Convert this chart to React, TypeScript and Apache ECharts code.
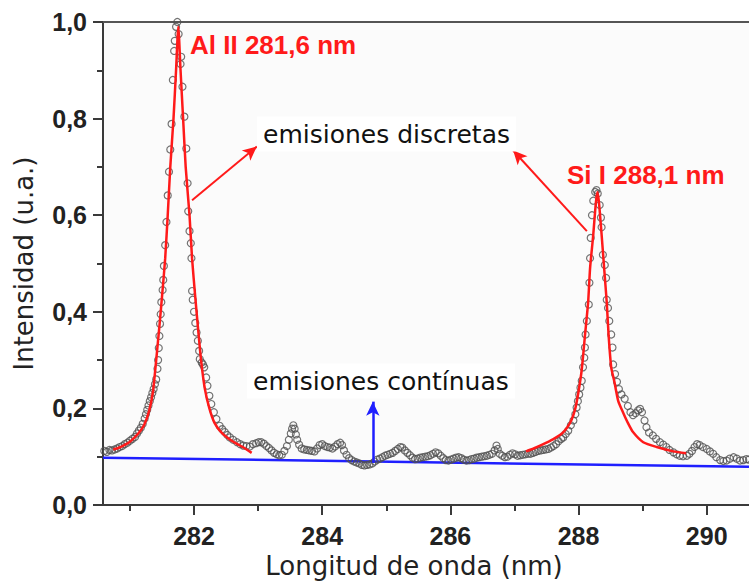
import { useEffect, useRef } from "react";
import * as echarts from "echarts";

// Measured spectrum (open circles)
const WAVELENGTH = [
  280.60, 280.64, 280.68, 280.72, 280.76, 280.80, 280.84, 280.88, 280.92, 280.96,
  281.00, 281.04, 281.08, 281.11, 281.14, 281.17, 281.20, 281.23, 281.25, 281.27,
  281.29, 281.31, 281.33, 281.35, 281.37, 281.39, 281.41, 281.43, 281.44, 281.45,
  281.46, 281.47, 281.48, 281.49, 281.51, 281.52, 281.53, 281.55, 281.57, 281.59,
  281.61, 281.63, 281.65, 281.67, 281.69, 281.70, 281.72, 281.74, 281.76, 281.79,
  281.80, 281.82, 281.85, 281.88, 281.90, 281.91, 281.93, 281.95, 281.96, 281.97,
  281.98, 282.00, 282.02, 282.04, 282.06, 282.08, 282.09, 282.12, 282.14, 282.16,
  282.19, 282.21, 282.24, 282.27, 282.31, 282.35, 282.40, 282.44, 282.48, 282.52,
  282.56, 282.61, 282.67, 282.72, 282.77, 282.82, 282.87, 282.92, 282.97, 283.01,
  283.05, 283.09, 283.13, 283.17, 283.21, 283.25, 283.29, 283.33, 283.37, 283.41,
  283.45, 283.48, 283.51, 283.53, 283.55, 283.57, 283.59, 283.61, 283.64, 283.68,
  283.72, 283.76, 283.80, 283.84, 283.88, 283.92, 283.96, 284.00, 284.04, 284.08,
  284.12, 284.16, 284.20, 284.24, 284.28, 284.31, 284.34, 284.38, 284.42, 284.46,
  284.50, 284.54, 284.58, 284.62, 284.66, 284.70, 284.74, 284.78, 284.82, 284.86,
  284.90, 284.94, 284.98, 285.02, 285.06, 285.10, 285.14, 285.18, 285.22, 285.25,
  285.29, 285.33, 285.37, 285.41, 285.45, 285.49, 285.53, 285.57, 285.61, 285.65,
  285.69, 285.73, 285.77, 285.81, 285.85, 285.89, 285.93, 285.97, 286.01, 286.05,
  286.09, 286.13, 286.17, 286.21, 286.25, 286.29, 286.33, 286.37, 286.41, 286.45,
  286.49, 286.53, 286.57, 286.61, 286.65, 286.69, 286.72, 286.74, 286.77, 286.81,
  286.85, 286.89, 286.93, 286.97, 287.01, 287.05, 287.09, 287.13, 287.17, 287.21,
  287.25, 287.29, 287.33, 287.37, 287.41, 287.45, 287.49, 287.53, 287.57, 287.61,
  287.65, 287.69, 287.73, 287.76, 287.80, 287.84, 287.88, 287.92, 287.95, 287.97,
  287.99, 288.01, 288.03, 288.05, 288.07, 288.09, 288.10, 288.11, 288.13, 288.16,
  288.17, 288.18, 288.19, 288.21, 288.23, 288.26, 288.28, 288.30, 288.33, 288.35,
  288.36, 288.38, 288.41, 288.43, 288.44, 288.46, 288.48, 288.51, 288.53, 288.54,
  288.57, 288.60, 288.63, 288.67, 288.72, 288.77, 288.81, 288.85, 288.89, 288.93,
  288.96, 288.99, 289.03, 289.06, 289.10, 289.16, 289.21, 289.27, 289.32, 289.37,
  289.42, 289.48, 289.53, 289.58, 289.63, 289.69, 289.73, 289.77, 289.81, 289.85,
  289.89, 289.94, 290.00, 290.05, 290.10, 290.15, 290.21, 290.26, 290.31, 290.36,
  290.42, 290.47, 290.52, 290.57, 290.62, 290.66,
];
const INTENSITY = [
  0.112, 0.110, 0.114, 0.113, 0.115, 0.117, 0.120, 0.122, 0.126, 0.129,
  0.133, 0.137, 0.141, 0.148, 0.154, 0.160, 0.168, 0.179, 0.188, 0.197,
  0.206, 0.215, 0.223, 0.232, 0.240, 0.250, 0.260, 0.282, 0.300, 0.325,
  0.350, 0.375, 0.395, 0.420, 0.445, 0.466, 0.495, 0.538, 0.586, 0.641,
  0.690, 0.736, 0.789, 0.880, 0.940, 0.961, 0.990, 1.000, 0.975, 0.913,
  0.928, 0.866, 0.804, 0.738, 0.666, 0.608, 0.567, 0.542, 0.511, 0.443,
  0.425, 0.400, 0.377, 0.357, 0.340, 0.319, 0.302, 0.295, 0.291, 0.285,
  0.264, 0.247, 0.226, 0.209, 0.192, 0.178, 0.164, 0.157, 0.151, 0.145,
  0.140, 0.135, 0.130, 0.126, 0.123, 0.122, 0.121, 0.126, 0.128, 0.130,
  0.130, 0.127, 0.122, 0.118, 0.113, 0.108, 0.105, 0.103, 0.104, 0.112,
  0.122, 0.135, 0.148, 0.158, 0.165, 0.158, 0.146, 0.135, 0.125, 0.117,
  0.115, 0.114, 0.113, 0.112, 0.111, 0.117, 0.124, 0.126, 0.122, 0.120,
  0.119, 0.117, 0.121, 0.126, 0.129, 0.124, 0.113, 0.104, 0.097, 0.093,
  0.090, 0.088, 0.086, 0.083, 0.082, 0.083, 0.084, 0.086, 0.090, 0.094,
  0.096, 0.099, 0.102, 0.104, 0.106, 0.108, 0.112, 0.116, 0.120, 0.119,
  0.113, 0.108, 0.103, 0.098, 0.095, 0.096, 0.098, 0.099, 0.100, 0.101,
  0.103, 0.106, 0.109, 0.107, 0.102, 0.097, 0.093, 0.092, 0.094, 0.096,
  0.098, 0.099, 0.097, 0.094, 0.092, 0.093, 0.095, 0.096, 0.098, 0.099,
  0.100, 0.101, 0.102, 0.104, 0.106, 0.113, 0.123, 0.116, 0.106, 0.102,
  0.099, 0.100, 0.104, 0.107, 0.105, 0.102, 0.103, 0.104, 0.105, 0.106,
  0.106, 0.108, 0.110, 0.112, 0.113, 0.114, 0.115, 0.116, 0.119, 0.122,
  0.126, 0.132, 0.137, 0.140, 0.147, 0.154, 0.165, 0.175, 0.188, 0.202,
  0.215, 0.229, 0.243, 0.257, 0.285, 0.305, 0.326, 0.353, 0.381, 0.415,
  0.460, 0.511, 0.553, 0.600, 0.630, 0.648, 0.652, 0.645, 0.621, 0.595,
  0.575, 0.518, 0.497, 0.470, 0.425, 0.408, 0.381, 0.353, 0.326, 0.291,
  0.271, 0.255, 0.240, 0.229, 0.220, 0.205, 0.192, 0.186, 0.190, 0.196,
  0.199, 0.192, 0.175, 0.161, 0.150, 0.144, 0.137, 0.130, 0.125, 0.120,
  0.114, 0.109, 0.105, 0.102, 0.101, 0.102, 0.106, 0.112, 0.120, 0.126,
  0.124, 0.120, 0.116, 0.111, 0.106, 0.099, 0.093, 0.091, 0.092, 0.096,
  0.099, 0.096, 0.092, 0.093, 0.095, 0.094,
];

// Fitted Al II 281,6 nm line (red)
const AL_FIT_X = [
  280.74, 280.85, 281.00, 281.13, 281.22, 281.30, 281.36, 281.41, 281.46, 281.50,
  281.55, 281.59, 281.63, 281.68, 281.72, 281.755, 281.79, 281.83, 281.87, 281.93,
  281.97, 282.02, 282.06, 282.11, 282.17, 282.24, 282.32, 282.43, 282.60, 282.76,
  282.90,
];
const AL_FIT_Y = [
  0.115, 0.120, 0.131, 0.148, 0.165, 0.195, 0.235, 0.300, 0.370, 0.430,
  0.510, 0.600, 0.700, 0.800, 0.900, 0.990, 0.900, 0.800, 0.700, 0.600,
  0.510, 0.430, 0.370, 0.300, 0.240, 0.200, 0.170, 0.150, 0.132, 0.120,
  0.108,
];

// Fitted Si I 288,1 nm line (red)
const SI_FIT_X = [
  287.18, 287.30, 287.45, 287.60, 287.74, 287.82, 287.89, 287.95, 288.00, 288.05,
  288.10, 288.15, 288.18, 288.23, 288.27, 288.295, 288.32, 288.36, 288.40, 288.44,
  288.47, 288.51, 288.56, 288.62, 288.70, 288.77, 288.85, 289.01, 289.22, 289.48,
  289.68,
];
const SI_FIT_Y = [
  0.111, 0.117, 0.126, 0.136, 0.148, 0.160, 0.176, 0.200, 0.235, 0.280,
  0.350, 0.420, 0.490, 0.560, 0.625, 0.648, 0.625, 0.560, 0.490, 0.420,
  0.350, 0.285, 0.255, 0.215, 0.190, 0.170, 0.151, 0.130, 0.120, 0.111,
  0.107,
];

// Continuum baseline (blue)
const BASELINE_X = [280.58, 290.66];
const BASELINE_Y = [0.098, 0.079];

// Axis ticks
const X_MAJOR_TICKS = [282, 284, 286, 288, 290];
const X_MINOR_TICKS = [281, 283, 285, 287, 289];
const X_MIN = 280.58;
const X_MAX = 290.66;

// Annotation arrows (data coordinates): [x1, y1, x2, y2]
const ARROW_AL = [281.97, 0.631, 282.98, 0.742];
const ARROW_SI = [288.13, 0.567, 286.98, 0.734];
const ARROW_CONT = [284.79, 0.087, 284.79, 0.214];

const pairs = (xs: number[], ys: number[]) => xs.map((x, i) => [x, ys[i]]);

export default function App() {
  const ref = useRef<HTMLDivElement>(null);
  useEffect(() => {
    const chart = echarts.init(ref.current!, null, { renderer: "svg" });
    const axisColor = "#3a3a3a";
    const red = "#ff1a1a";
    const blue = "#1f1fff";
    chart.setOption({
      animation: false,
      backgroundColor: "#ffffff",
      grid: {
        left: 103,
        right: 0,
        top: 22,
        bottom: 76,
        show: true,
        backgroundColor: "#fbfbfb",
        borderWidth: 0,
      },
      xAxis: [
        {
          type: "value",
          min: X_MIN,
          max: X_MAX,
          position: "bottom",
          axisLine: { show: true, onZero: false, lineStyle: { color: axisColor, width: 2 } },
          axisTick: { show: true, customValues: X_MAJOR_TICKS, length: 10, lineStyle: { color: axisColor, width: 2 } },
          axisLabel: {
            customValues: X_MAJOR_TICKS,
            fontFamily: "Liberation Sans",
            fontWeight: "bold",
            fontSize: 25,
            color: "#222",
            margin: 18,
          },
          splitLine: { show: false },
          name: "Longitud de onda (nm)",
          nameLocation: "middle",
          nameGap: 48,
          nameTextStyle: { fontFamily: "DejaVu Sans", fontSize: 26, color: "#222", padding: [0, 24, 0, 0] },
        },
        {
          type: "value",
          min: X_MIN,
          max: X_MAX,
          position: "bottom",
          axisLine: { show: false },
          axisTick: { show: true, customValues: X_MINOR_TICKS, length: 6, lineStyle: { color: axisColor, width: 2 } },
          axisLabel: { show: false },
          splitLine: { show: false },
        },
        {
          type: "value",
          min: X_MIN,
          max: X_MAX,
          position: "top",
          axisLine: { show: true, onZero: false, lineStyle: { color: "#555", width: 2 } },
          axisTick: { show: false },
          axisLabel: { show: false },
          splitLine: { show: false },
        },
      ],
      yAxis: {
        type: "value",
        min: 0,
        max: 1,
        interval: 0.2,
        axisLine: { show: true, onZero: false, lineStyle: { color: axisColor, width: 2 } },
        axisTick: { show: true, length: 10, lineStyle: { color: axisColor, width: 2 } },
        minorTick: { show: true, splitNumber: 2, length: 6, lineStyle: { color: axisColor, width: 2 } },
        axisLabel: {
          fontFamily: "Liberation Sans",
          fontWeight: "bold",
          fontSize: 25,
          color: "#222",
          margin: 16,
          formatter: (v: number) => v.toFixed(1).replace(".", ","),
        },
        splitLine: { show: false },
        minorSplitLine: { show: false },
        name: "Intensidad (u.a.)",
        nameLocation: "middle",
        nameGap: 66,
        nameTextStyle: { fontFamily: "DejaVu Sans", fontSize: 26, color: "#222" },
      },
      series: [
        {
          type: "line",
          xAxisIndex: 0,
          data: pairs(BASELINE_X, BASELINE_Y),
          symbol: "none",
          lineStyle: { color: blue, width: 2.5 },
          z: 2,
          markLine: {
            silent: true,
            symbol: ["none", "arrow"],
            symbolSize: [10, 14],
            label: { show: false },
            lineStyle: { color: blue, width: 2.5, type: "solid" },
            data: [[{ coord: [ARROW_CONT[0], ARROW_CONT[1]] }, { coord: [ARROW_CONT[2], ARROW_CONT[3]] }]],
          },
        },
        {
          type: "scatter",
          xAxisIndex: 0,
          data: pairs(WAVELENGTH, INTENSITY),
          symbol: "circle",
          symbolSize: 7,
          itemStyle: { color: "rgba(0,0,0,0)", borderColor: "#505050", borderWidth: 1.2 },
          z: 3,
        },
        {
          type: "line",
          xAxisIndex: 0,
          data: pairs(AL_FIT_X, AL_FIT_Y),
          symbol: "none",
          smooth: 0.2,
          lineStyle: { color: red, width: 2.5 },
          z: 4,
          markLine: {
            silent: true,
            symbol: ["none", "arrow"],
            symbolSize: [10, 14],
            label: { show: false },
            lineStyle: { color: red, width: 2, type: "solid" },
            data: [
              [{ coord: [ARROW_AL[0], ARROW_AL[1]] }, { coord: [ARROW_AL[2], ARROW_AL[3]] }],
              [{ coord: [ARROW_SI[0], ARROW_SI[1]] }, { coord: [ARROW_SI[2], ARROW_SI[3]] }],
            ],
          },
        },
        {
          type: "line",
          xAxisIndex: 0,
          data: pairs(SI_FIT_X, SI_FIT_Y),
          symbol: "none",
          smooth: 0.2,
          lineStyle: { color: red, width: 2.5 },
          z: 4,
        },
      ],
      graphic: [
        {
          type: "text",
          x: 190,
          y: 45,
          z: 10,
          style: {
            text: "Al II 281,6 nm",
            fill: red,
            fontFamily: "Liberation Sans",
            fontWeight: "bold",
            fontSize: 26,
            verticalAlign: "middle",
          },
        },
        {
          type: "text",
          x: 567,
          y: 175,
          z: 10,
          style: {
            text: "Si I 288,1 nm",
            fill: red,
            fontFamily: "Liberation Sans",
            fontWeight: "bold",
            fontSize: 26,
            verticalAlign: "middle",
          },
        },
        {
          type: "text",
          x: 257,
          y: 134,
          z: 10,
          style: {
            text: "emisiones discretas",
            fill: "#111",
            fontFamily: "DejaVu Sans",
            fontSize: 25,
            verticalAlign: "middle",
            backgroundColor: "#ffffff",
            padding: [5, 6, 5, 6],
          },
        },
        {
          type: "text",
          x: 247,
          y: 381,
          z: 10,
          style: {
            text: "emisiones contínuas",
            fill: "#111",
            fontFamily: "DejaVu Sans",
            fontSize: 25,
            verticalAlign: "middle",
            backgroundColor: "#ffffff",
            padding: [5, 6, 5, 6],
          },
        },
      ],
    });
    return () => chart.dispose();
  }, []);
  return (
    <div
      ref={ref}
      style={{ position: "fixed", left: 0, top: 0, width: 749, height: 584, background: "#fff" }}
    />
  );
}
